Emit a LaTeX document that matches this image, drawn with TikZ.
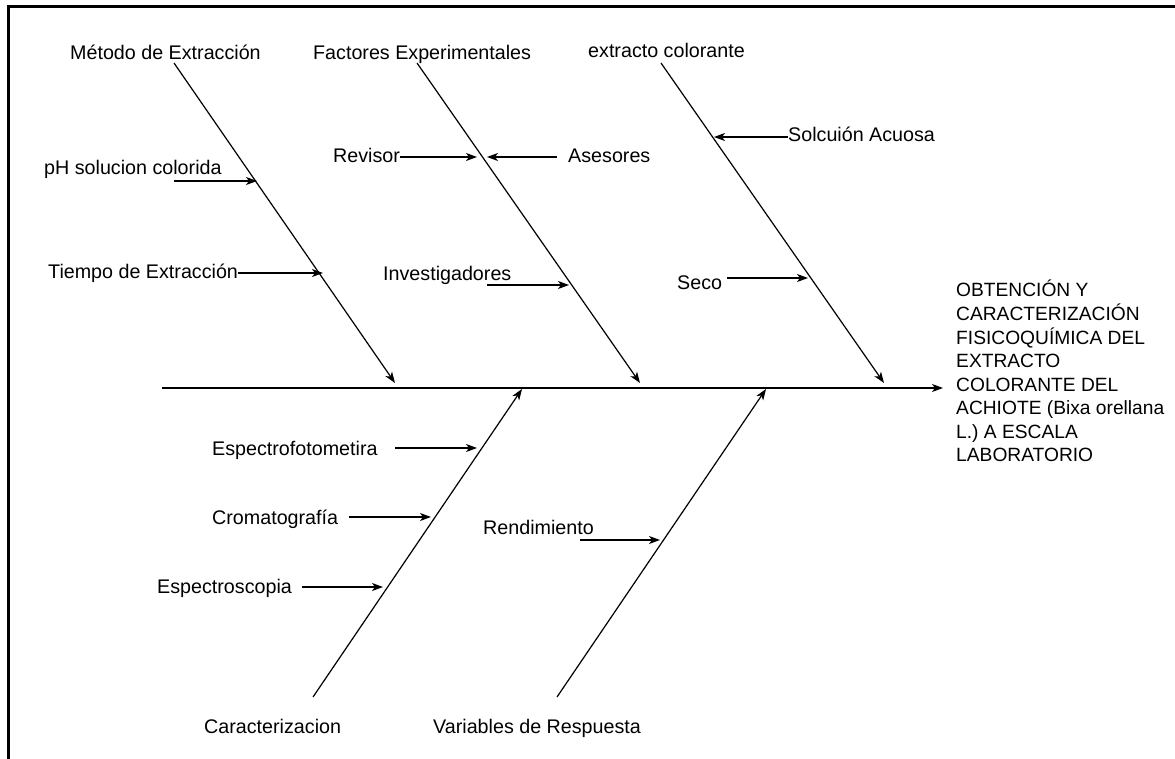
\documentclass[tikz,border=0pt]{standalone}
\usepackage{fontspec}
\setmainfont{Liberation Sans}
\usetikzlibrary{arrows.meta}
\begin{document}
\begin{tikzpicture}[x=1pt,y=-1pt,
  lbl/.style={anchor=base west,inner sep=0pt,font=\fontsize{19.7}{23}\selectfont},
  bone/.style={line width=1.2pt,-{Stealth[length=11pt,width=8pt,inset=3pt]}},
  sub/.style={line width=1.2pt,-{Stealth[length=11pt,width=8pt,inset=3pt]}},
  spine/.style={line width=1.5pt,-{Stealth[length=11pt,width=8pt,inset=3pt]}},
  frame/.style={line width=2.2pt}]
\useasboundingbox (0,0) rectangle (1175,759);
% frame
\coordinate (fTR) at (1175,6.5);
\coordinate (fTL) at (8.5,6.5);
\coordinate (fBL) at (8.5,759);
\draw[frame] (fTR) -- (fTL) -- (fBL);

% spine
\coordinate (s0) at (162,388);
\coordinate (s1) at (943,388);
\draw[spine] (s0) -- (s1);

% title
\node[anchor=base west,inner sep=0pt,font=\fontsize{19.2}{23.5}\selectfont] (title) at (956,297)
 {\begin{tabular}[t]{@{}l@{}}OBTENCIÓN Y\\CARACTERIZACIÓN\\FISICOQUÍMICA DEL\\EXTRACTO\\COLORANTE DEL\\ACHIOTE (Bixa orellana\\L.) A ESCALA\\LABORATORIO\end{tabular}};

% main bones
\coordinate (b1s) at (174,63);  \coordinate (b1e) at (395,383);
\coordinate (b2s) at (417,63);  \coordinate (b2e) at (640,383);
\coordinate (b3s) at (661,63);  \coordinate (b3e) at (884,383);
\coordinate (b4s) at (313,697); \coordinate (b4e) at (522,389);
\coordinate (b5s) at (557,697); \coordinate (b5e) at (766,389);
\draw[bone] (b1s) -- (b1e);
\draw[bone] (b2s) -- (b2e);
\draw[bone] (b3s) -- (b3e);
\draw[bone] (b4s) -- (b4e);
\draw[bone] (b5s) -- (b5e);

% category labels
\node[lbl] (met) at (70,60) {Método de Extracción};
\node[lbl] (fac) at (313,60) {Factores Experimentales};
\node[lbl] (ext) at (588,58) {extracto colorante};
\node[lbl] (car) at (204,733) {Caracterizacion};
\node[lbl] (var) at (433,733) {Variables de Respuesta};

% Método sub-causes
\node[lbl] (ph) at (44,175) {pH solucion colorida};
\coordinate (ph0) at (174,181); \coordinate (ph1) at (257,181);
\draw[sub] (ph0) -- (ph1);
\node[lbl] (tie) at (48,279) {Tiempo de Extracción};
\coordinate (tie1) at (323,273);
\draw[sub] (tie.east |- tie1) -- (tie1);

% Factores sub-causes
\node[lbl] (rev) at (333,163) {Revisor};
\coordinate (rev1) at (477,157);
\draw[sub] (rev.east |- rev1) -- (rev1);
\node[lbl] (ase) at (568,163) {Asesores};
\coordinate (ase0) at (557,157); \coordinate (ase1) at (487,157);
\draw[sub] (ase0) -- (ase1);
\node[lbl] (inv) at (383,280) {Investigadores};
\coordinate (inv0) at (487,285); \coordinate (inv1) at (569,285);
\draw[sub] (inv0) -- (inv1);

% extracto sub-causes
\node[lbl] (sol) at (788,142) {Solcuión Acuosa};
\coordinate (sol1) at (714,137);
\draw[sub] (sol.west |- sol1) -- (sol1);
\node[lbl] (sec) at (677,290) {Seco};
\coordinate (sec0) at (727,278); \coordinate (sec1) at (808,278);
\draw[sub] (sec0) -- (sec1);

% Caracterizacion sub-causes
\node[lbl] (esf) at (212,455) {Espectrofotometira};
\coordinate (esf0) at (395,448); \coordinate (esf1) at (477,448);
\draw[sub] (esf0) -- (esf1);
\node[lbl] (cro) at (212,524) {Cromatografía};
\coordinate (cro0) at (349,517); \coordinate (cro1) at (431,517);
\draw[sub] (cro0) -- (cro1);
\node[lbl] (esc) at (157,593) {Espectroscopia};
\coordinate (esc0) at (302,587); \coordinate (esc1) at (383,587);
\draw[sub] (esc0) -- (esc1);

% Variables sub-causes
\node[lbl] (ren) at (483,534) {Rendimiento};
\coordinate (ren0) at (580,540); \coordinate (ren1) at (660,540);
\draw[sub] (ren0) -- (ren1);
\end{tikzpicture}
\end{document}
